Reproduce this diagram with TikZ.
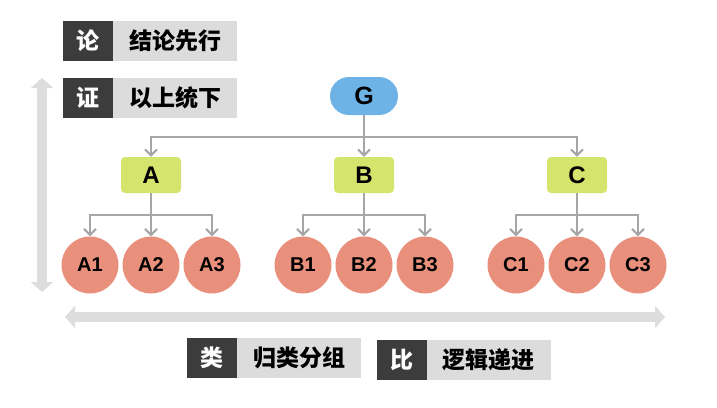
\documentclass[tikz,border=0pt]{standalone}
\usepackage{fontspec}
\setmainfont{Liberation Sans}
\newfontfamily\cjk{Noto Sans CJK SC}
\usetikzlibrary{positioning,arrows.meta}
\definecolor{goalblue}{HTML}{6DB3E6}
\definecolor{groupgreen}{HTML}{D5E46C}
\definecolor{pointred}{HTML}{E9907C}
\definecolor{linkgray}{HTML}{A6A6A6}
\definecolor{tagdark}{HTML}{3C3C3C}
\definecolor{taglight}{HTML}{DCDCDC}
\definecolor{axisgray}{HTML}{DDDDDD}

\begin{document}
\begin{tikzpicture}[x = 1pt, y = 1pt, grow = down,
    level 1/.style = {level distance = 79pt, sibling distance = 213pt},
    level 2/.style = {level distance = 90pt, sibling distance = 61pt},
    edge from parent/.style = {draw, linkgray, line width = 2pt,
        -{Straight Barb[length = 6pt, width = 12pt]}},
    edge from parent path = {(\tikzparentnode.south) -- ++(0,-22) -| (\tikzchildnode.north)},
    goal/.style = {fill = goalblue, rounded corners = 19pt, minimum width = 68pt,
        minimum height = 38pt, inner sep = 0pt, font = \bfseries\fontsize{25}{25}\selectfont},
    group/.style = {fill = groupgreen, rounded corners = 4pt, minimum width = 60pt,
        minimum height = 36pt, inner sep = 0pt, font = \bfseries\fontsize{24}{24}\selectfont},
    point/.style = {shape = circle, fill = pointred, minimum size = 57pt, inner sep = 0pt,
        font = \bfseries\fontsize{20}{20}\selectfont},
    tag/.style = {fill = tagdark, text = white, minimum width = 50pt, minimum height = 40pt,
        inner sep = 0pt, font = {\cjk\bfseries\fontsize{23}{23}\selectfont}},
    tagtext/.style = {fill = taglight, minimum width = 124pt, minimum height = 40pt,
        inner sep = 0pt, font = {\cjk\bfseries\fontsize{23}{23}\selectfont}},
    wide arrow/.style = {draw = axisgray, line width = 10pt,
        {Triangle[length = 10pt, width = 22pt]}-{Triangle[length = 10pt, width = 22pt]}}]
    \useasboundingbox (0,0) rectangle (717,-407);

    % side labels
    \node[tag] (lun) at (88,-41) {论};
    \node[tagtext, right = 0pt of lun] (luntext) {结论先行};
    \node[tag] (zheng) at (88,-97.5) {证};
    \node[tagtext, right = 0pt of zheng] (zhengtext) {以上统下};
    \node[tag] (lei) at (212,-358) {类};
    \node[tagtext, right = 0pt of lei] (leitext) {归类分组};
    \node[tag] (bi) at (401.5,-360) {比};
    \node[tagtext, right = 0pt of bi] (bitext) {逻辑递进};

    % axes
    \coordinate (vtop) at (42,-78);
    \coordinate (vbot) at (42,-292);
    \coordinate (hleft) at (65,-317);
    \coordinate (hright) at (665,-317);
    \draw[wide arrow] (vtop) -- (vbot);
    \draw[wide arrow] (hleft) -- (hright);

    % pyramid
    \node[goal] (G) at (364,-96) {G}
        child{ node[group] (A) {A}
            child{ node[point] (A1) {A1} }
            child{ node[point] (A2) {A2} }
            child{ node[point] (A3) {A3} }}
        child{ node[group] (B) {B}
            child{ node[point] (B1) {B1} }
            child{ node[point] (B2) {B2} }
            child{ node[point] (B3) {B3} }}
        child{ node[group] (C) {C}
            child{ node[point] (C1) {C1} }
            child{ node[point] (C2) {C2} }
            child{ node[point] (C3) {C3} }};
\end{tikzpicture}
\end{document}
